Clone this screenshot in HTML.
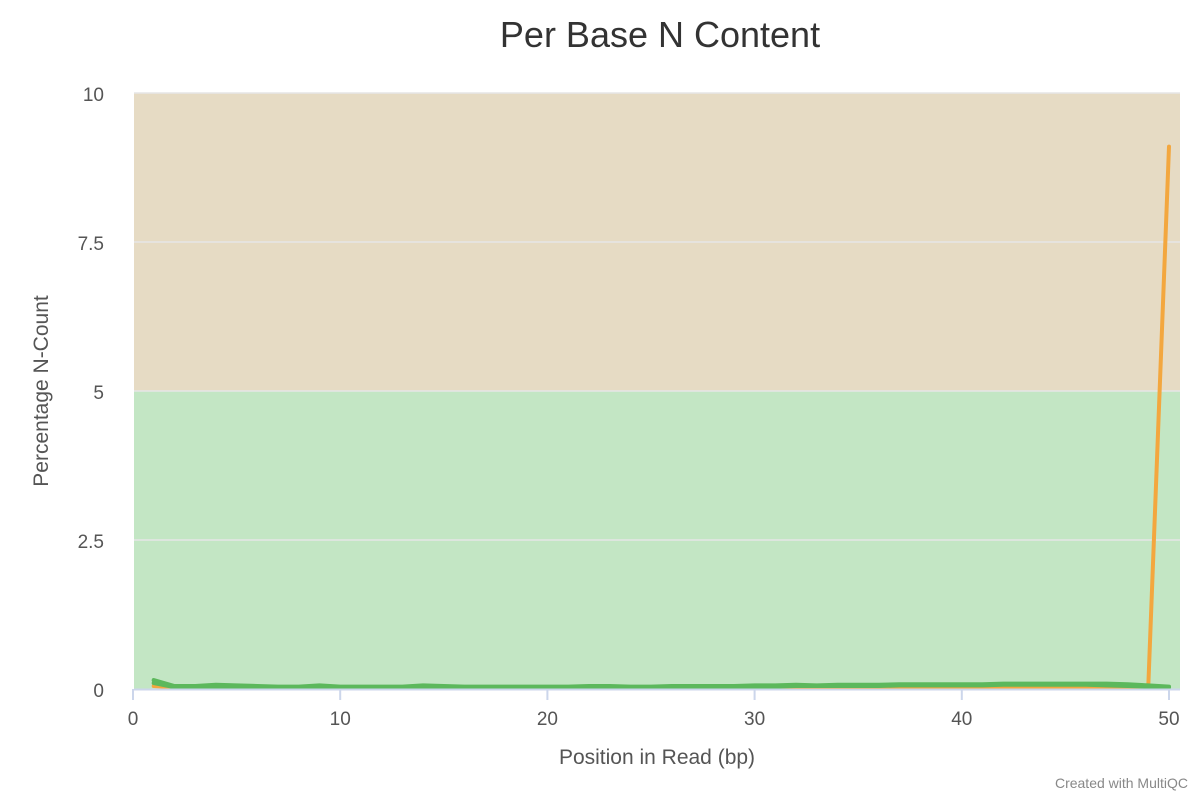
<!DOCTYPE html>
<html><head><meta charset="utf-8"><style>
body{margin:0;background:#fff;width:1200px;height:800px;overflow:hidden;font-family:"Liberation Sans","DejaVu Sans",sans-serif}
</style></head><body>
<svg id="chart" width="1200" height="800">
<text x="660" y="47" text-anchor="middle" font-size="36" fill="#333">Per Base N Content</text>
<g id="bands"></g><g id="grid"></g><g id="series"></g><g id="axes"></g>
<text x="48" y="391" transform="rotate(-90 48 391)" text-anchor="middle" font-size="21" fill="#555">Percentage N-Count</text>
<text x="657" y="764" text-anchor="middle" font-size="21" fill="#555">Position in Read (bp)</text>
<text x="1188" y="788" text-anchor="end" font-size="14" fill="#888">Created with MultiQC</text>
</svg>
<script>
const xTicks=[0,10,20,30,40,50];
const yTicks=[0,2.5,5,7.5,10];
const yTickLabels=["0","2.5","5","7.5","10"];
const positions=[1,2,3,4,5,6,7,8,9,10,11,12,13,14,15,16,17,18,19,20,21,22,23,24,25,26,27,28,29,30,31,32,33,34,35,36,37,38,39,40,41,42,43,44,45,46,47,48,49,50];
const greenA=[0.15,0.05,0.05,0.07,0.06,0.05,0.04,0.04,0.06,0.04,0.04,0.04,0.04,0.06,0.05,0.04,0.04,0.04,0.04,0.04,0.04,0.05,0.05,0.04,0.04,0.05,0.05,0.05,0.05,0.06,0.06,0.07,0.06,0.07,0.07,0.07,0.08,0.08,0.08,0.08,0.08,0.09,0.09,0.09,0.09,0.09,0.09,0.08,0.06,0.04];
const greenB=[0.1,0.03,0.03,0.04,0.04,0.03,0.03,0.03,0.04,0.03,0.03,0.03,0.03,0.04,0.03,0.03,0.03,0.03,0.03,0.03,0.03,0.03,0.03,0.03,0.03,0.04,0.04,0.04,0.04,0.04,0.04,0.05,0.05,0.05,0.05,0.05,0.06,0.06,0.06,0.06,0.06,0.07,0.07,0.07,0.07,0.07,0.06,0.05,0.04,0.03];
const orange=[0.05,0.03,0.03,0.04,0.03,0.03,0.03,0.03,0.03,0.03,0.03,0.03,0.03,0.03,0.03,0.03,0.03,0.03,0.03,0.03,0.03,0.03,0.03,0.03,0.03,0.03,0.03,0.03,0.03,0.03,0.03,0.03,0.03,0.03,0.03,0.03,0.03,0.03,0.03,0.03,0.03,0.03,0.03,0.03,0.03,0.03,0.03,0.03,0.05,9.1];
const X0=134,X1=1180,Y0=689,Y1=93;
const xs=v=>133+v*20.72;
const ys=v=>Y0-(v/10)*(Y0-Y1);
const NS="http://www.w3.org/2000/svg";
function mk(t,a,p){const e=document.createElementNS(NS,t);for(const k in a)e.setAttribute(k,a[k]);p.appendChild(e);return e;}
const bands=document.getElementById('bands');
const bg1=mk('rect',{x:X0,y:ys(10),width:X1-X0,height:ys(5)-ys(10),fill:'#e6dbc4'},bands);


const bg2=mk('rect',{x:X0,y:ys(5),width:X1-X0,height:Y0-ys(5),fill:'#c3e6c4'},bands);


const grid=document.getElementById('grid'),axes=document.getElementById('axes');
yTicks.forEach((t,i)=>{
 if(t>0){const g=mk('line',{x1:X0,x2:X1,y1:ys(t),y2:ys(t),stroke:'#e6e6e6','stroke-width':1.5},grid);
 
 }
 const l=mk('text',{x:104,y:ys(t)+8,'text-anchor':'end','font-size':19,fill:'#555'},axes);l.textContent=yTickLabels[i];
 
 
});
const ax=mk('line',{x1:X0,x2:X1,y1:Y0+0.5,y2:Y0+0.5,stroke:'#ccd6eb','stroke-width':2},axes);


xTicks.forEach(t=>{
 const tk=mk('line',{x1:xs(t),x2:xs(t),y1:Y0,y2:Y0+11,stroke:'#ccd6eb','stroke-width':2},axes);
 
 
 const l=mk('text',{x:xs(t),y:Y0+36,'text-anchor':'middle','font-size':19,fill:'#555'},axes);l.textContent=t;
 
 
});
const sg=document.getElementById('series');
function line(vals,color,w,name){
 const d=vals.map((v,i)=>(i?'L':'M')+xs(positions[i]).toFixed(1)+','+ys(v).toFixed(1)).join('');
 const p=mk('path',{d:d,fill:'none',stroke:color,'stroke-width':w,'stroke-linejoin':'round','stroke-linecap':'round'},sg);
 
 
}
line(orange,'#f3a73f',4,'series-orange');
line(greenA,'#5cb85c',4,'series-green-a');
line(greenB,'#5cb85c',4,'series-green-b');
</script>
</body></html>
